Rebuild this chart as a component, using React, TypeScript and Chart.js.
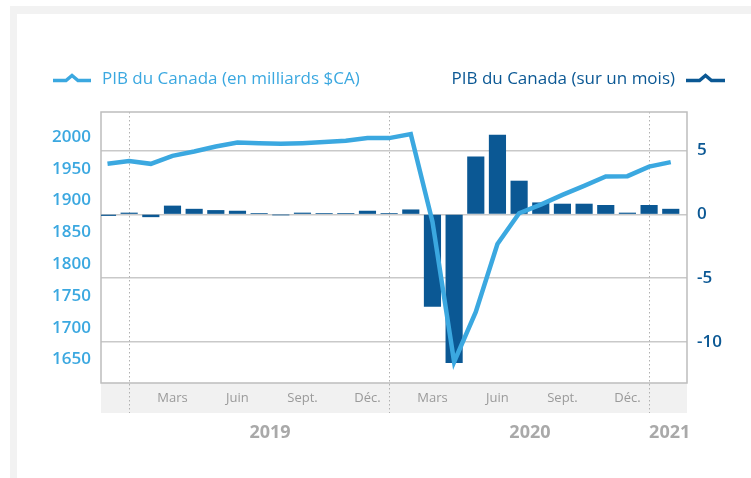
import React, { useEffect, useRef } from "react";
import { Chart, registerables } from "chart.js";

Chart.register(...registerables);

// ---- Data ----
const months = [
  "Déc.", "Janv.", "Févr.", "Mars", "Avr.", "Mai", "Juin", "Juil.", "Août", "Sept.", "Oct.", "Nov.", "Déc.",
  "Janv.", "Févr.", "Mars", "Avr.", "Mai", "Juin", "Juil.", "Août", "Sept.", "Oct.", "Nov.", "Déc.",
  "Janv.", "Févr.",
];
// PIB du Canada (en milliards $CA) - left axis
const gdpLevel = [
  1957.9, 1962.2, 1957.9, 1970.5, 1977.3, 1985.2, 1991.5, 1990.5, 1989.4, 1990.5, 1992.1, 1994.2, 1998.4,
  1998.4, 2004.7, 1866.9, 1646.2, 1725.0, 1831.8, 1880.2, 1893.7, 1909.0, 1923.2, 1937.9, 1938.5,
  1953.6, 1960.6,
];
// PIB du Canada (sur un mois, %) - right axis
const gdpMonthly = [
  -0.1, 0.1, -0.2, 0.65, 0.4, 0.3, 0.25, 0.05, -0.05, 0.1, 0.05, 0.05, 0.25,
  0.05, 0.35, -7.2, -11.6, 4.5, 6.2, 2.6, 0.9, 0.8, 0.8, 0.7, 0.1,
  0.7, 0.4,
];
const monthTickIdx = [3, 6, 9, 12, 15, 18, 21, 24];
const yearLabels = ["2019", "2020", "2021"];
const yearCenters = [7.5, 19.5, 25.95];
const yearStarts = [1, 13, 25];
const leftTicks = [1650, 1700, 1750, 1800, 1850, 1900, 1950, 2000];
const rightTicks = [-10, -5, 0, 5];
const legendLeft = "PIB du Canada (en milliards $CA)";
const legendRight = "PIB du Canada (sur un mois)";

const LIGHT = "#3ba8e0";
const DARK = "#0b5894";
const FONT = "'Open Sans', 'Noto Sans', sans-serif";

function drawIcon(ctx: CanvasRenderingContext2D, x0: number, x1: number, y: number, color: string) {
  const mid = (x0 + x1) / 2;
  ctx.save();
  ctx.strokeStyle = color;
  ctx.lineWidth = 3.5;
  ctx.lineJoin = "miter";
  ctx.lineCap = "butt";
  ctx.beginPath();
  ctx.moveTo(x0, y);
  ctx.lineTo(mid - 6, y);
  ctx.lineTo(mid, y - 5);
  ctx.lineTo(mid + 6, y);
  ctx.lineTo(x1, y);
  ctx.stroke();
  ctx.restore();
}

const decor = {
  id: "decor",
  beforeDraw(chart: any) {
    const { ctx, chartArea: a } = chart;
    ctx.save();
    ctx.fillStyle = "#f2f2f2";
    ctx.fillRect(10, 6, 741, 8);
    ctx.fillRect(10, 6, 7, 472);
    ctx.fillStyle = "#f1f1f1";
    ctx.fillRect(a.left, a.bottom, a.right - a.left, 30);
    ctx.restore();
  },
  beforeDatasetsDraw(chart: any) {
    const { ctx, chartArea: a, scales } = chart;
    ctx.save();
    ctx.strokeStyle = "#b0b0b0";
    ctx.lineWidth = 1;
    ctx.setLineDash([1.5, 2.5]);
    for (const v of yearStarts) {
      const x = Math.round(scales.x.getPixelForValue(v)) + 0.5;
      ctx.beginPath();
      ctx.moveTo(x, a.top);
      ctx.lineTo(x, a.bottom + 30);
      ctx.stroke();
    }
    ctx.setLineDash([]);
    ctx.strokeStyle = "#bdbdbd";
    ctx.lineWidth = 1.5;
    ctx.strokeRect(a.left, a.top, a.right - a.left, a.bottom - a.top);
    ctx.restore();
  },
  afterDraw(chart: any) {
    const { ctx, scales } = chart;
    ctx.save();
    // legend
    ctx.font = `17px ${FONT}`;
    ctx.textBaseline = "middle";
    drawIcon(ctx, 53, 91, 80.5, LIGHT);
    ctx.fillStyle = LIGHT;
    ctx.textAlign = "left";
    ctx.fillText(legendLeft, 102, 79);
    ctx.fillStyle = DARK;
    ctx.textAlign = "right";
    ctx.fillText(legendRight, 675, 79);
    drawIcon(ctx, 686, 725, 80.5, DARK);
    // years
    ctx.font = `bold 18px ${FONT}`;
    ctx.fillStyle = "#a9a9a9";
    ctx.textAlign = "center";
    yearLabels.forEach((t, i) => {
      ctx.fillText(t, scales.x.getPixelForValue(yearCenters[i]), 433);
    });
    ctx.restore();
  },
};

export default function App() {
  const ref = useRef<HTMLCanvasElement | null>(null);
  useEffect(() => {
    if (!ref.current) return;
    const chart = new Chart(ref.current, {
      type: "bar",
      data: {
        datasets: [
          {
            type: "line",
            label: legendLeft,
            data: gdpLevel.map((v, i) => ({ x: i, y: v })),
            xAxisID: "x",
            yAxisID: "yL",
            borderColor: LIGHT,
            backgroundColor: LIGHT,
            borderWidth: 4.5,
            pointRadius: 0,
            tension: 0,
            order: 0,
          } as any,
          {
            type: "bar",
            label: legendRight,
            data: gdpMonthly.map((v, i) => ({ x: i, y: v })),
            xAxisID: "x",
            yAxisID: "yR",
            backgroundColor: DARK,
            barThickness: 16.5,
            order: 1,
          } as any,
        ],
      },
      options: {
        responsive: false,
        animation: false,
        devicePixelRatio: 1,
        layout: { padding: { top: 112, left: 0, right: 0, bottom: 0 } },
        plugins: { legend: { display: false }, tooltip: { enabled: false } },
        scales: {
          x: {
            type: "linear",
            position: "bottom",
            min: -0.3,
            max: 26.75,
            offset: false,
            grid: { display: false, drawTicks: false },
            border: { display: false },
            afterBuildTicks: (s: any) => {
              s.ticks = monthTickIdx.map((v) => ({ value: v }));
            },
            afterFit: (s: any) => {
              s.height = 95;
            },
            ticks: {
              autoSkip: false,
              maxRotation: 0,
              padding: 7,
              color: "#9a9a9a",
              font: { family: FONT, size: 13 },
              callback: (v: any) => months[v as number],
            },
          },
          yL: {
            type: "linear",
            position: "left",
            min: 1613,
            max: 2039.5,
            grid: { display: false, drawTicks: false },
            border: { display: false },
            afterBuildTicks: (s: any) => {
              s.ticks = leftTicks.map((v) => ({ value: v }));
            },
            afterFit: (s: any) => {
              s.width = 101;
            },
            ticks: {
              padding: 10,
              color: LIGHT,
              font: { family: FONT, size: 17, weight: "600" },
              callback: (v: any) => String(v),
            },
          },
          yR: {
            type: "linear",
            position: "right",
            min: -13.2,
            max: 8,
            grid: { color: "#c9c9c9", lineWidth: 1.5, drawTicks: false },
            border: { display: false },
            afterBuildTicks: (s: any) => {
              s.ticks = rightTicks.map((v) => ({ value: v }));
            },
            afterFit: (s: any) => {
              s.width = 64;
            },
            ticks: {
              padding: 10,
              color: DARK,
              font: { family: FONT, size: 17, weight: "600" },
              callback: (v: any) => String(v),
            },
          },
        },
      } as any,
      plugins: [decor],
    });
    return () => chart.destroy();
  }, []);
  return (
    <div style={{ position: "fixed", left: 0, top: 0, width: 751, height: 478, background: "#fff" }}>
      <canvas ref={ref} width={751} height={478} style={{ display: "block", width: 751, height: 478 }} />
    </div>
  );
}
